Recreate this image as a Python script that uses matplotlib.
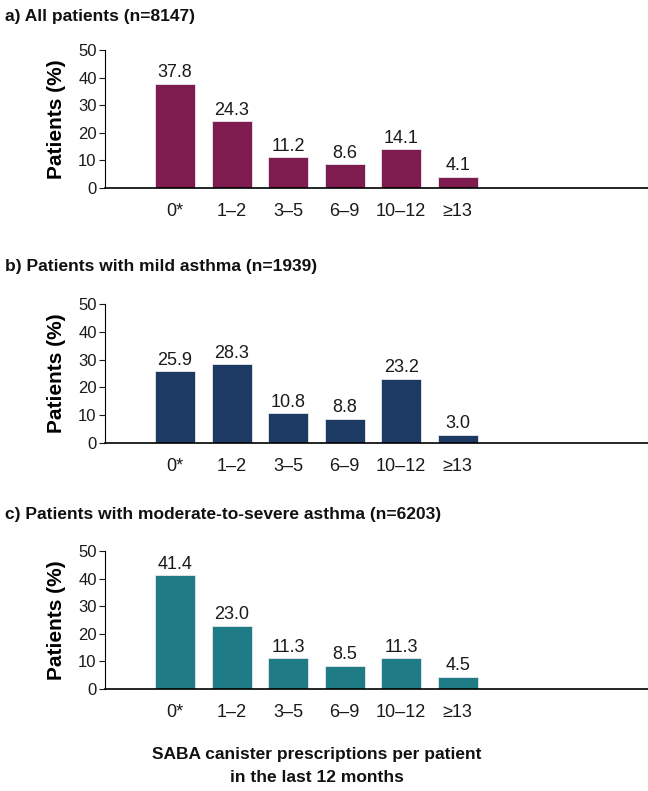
import matplotlib
matplotlib.use("Agg")
import matplotlib.pyplot as plt

plt.rcParams['font.family'] = ['Liberation Sans', 'DejaVu Sans']

categories = ["0*", "1\u20132", "3\u20135", "6\u20139", "10\u201312", "\u226513"]
all_patients = [37.8, 24.3, 11.2, 8.6, 14.1, 4.1]
mild_asthma = [25.9, 28.3, 10.8, 8.8, 23.2, 3.0]
mod_severe_asthma = [41.4, 23.0, 11.3, 8.5, 11.3, 4.5]

titles = [
    "a) All patients (n=8147)",
    "b) Patients with mild asthma (n=1939)",
    "c) Patients with moderate-to-severe asthma (n=6203)",
]
series = [all_patients, mild_asthma, mod_severe_asthma]
colors = ["#7E1C50", "#1C3A62", "#1F7B86"]
y_ticks = [0, 10, 20, 30, 40, 50]
x_label = "SABA canister prescriptions per patient\nin the last 12 months"

W, H = 648, 791
fig = plt.figure(figsize=(W / 100, H / 100), dpi=100)

# pixel geometry of each panel: (top of y=50, bottom at y=0)
panels = [(50, 188), (304, 443), (551, 689)]
title_y = [17, 266, 515]
left_px = 105

for i, (vals, col, title) in enumerate(zip(series, colors, titles)):
    top, bot = panels[i]
    ax = fig.add_axes([left_px / W, 1 - bot / H, 1 - left_px / W, (bot - top) / H])
    x = list(range(len(categories)))
    bars = ax.bar(x, vals, width=0.71, color=col, edgecolor="#e8e8ee", linewidth=0.6)
    for b, v in zip(bars, vals):
        ax.text(b.get_x() + b.get_width() / 2, v + 0.8, f"{v:.1f}",
                ha="center", va="bottom", fontsize=13, color="#1a1a1a")
    ax.set_xlim(-1.24, 8.37)
    ax.set_ylim(0, 50)
    ax.set_yticks(y_ticks)
    ax.tick_params(axis="y", labelsize=12, length=4, width=0.8, pad=2, colors="#1a1a1a")
    for s in ("top", "right"):
        ax.spines[s].set_visible(False)
    ax.spines["left"].set_linewidth(0.8)
    ax.spines["bottom"].set_linewidth(1.2)
    ax.set_ylabel("Patients (%)", fontsize=15, fontweight="bold", labelpad=9)
    ax.set_xticks(x)
    ax.set_xticklabels(categories, fontsize=13, color="#1a1a1a")
    ax.tick_params(axis="x", length=0, pad=11)
    fig.text(5 / W, 1 - title_y[i] / H, title, fontsize=12.5, fontweight="bold",
             ha="left", va="center", color="#111111")

fig.text(317 / W, 1 - 766 / H, x_label, fontsize=12.5, fontweight="bold",
         ha="center", va="center", linespacing=1.65, color="#111111")

fig.savefig("out.png", dpi=100)
